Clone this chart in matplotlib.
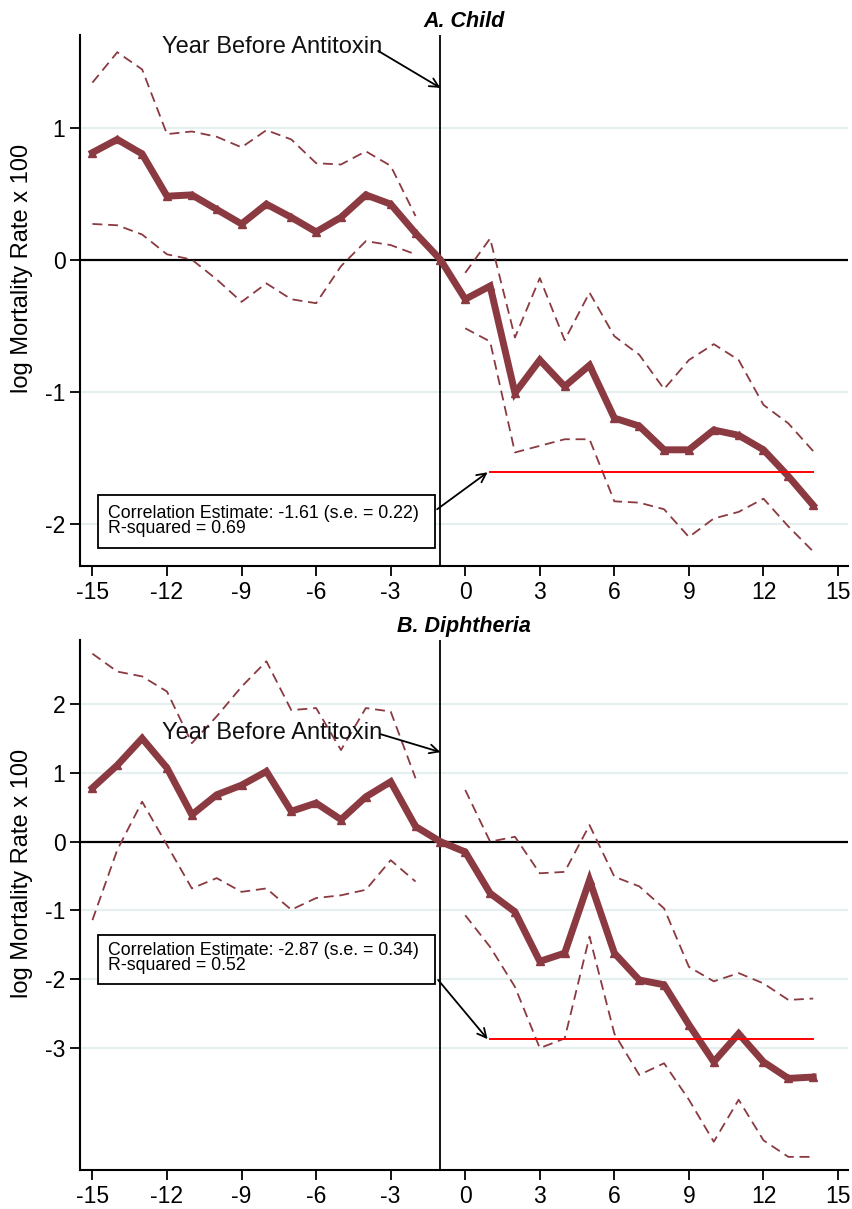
import matplotlib.pyplot as plt
from matplotlib.patches import Rectangle

plt.rcParams["font.family"] = ["Liberation Sans", "DejaVu Sans"]

# event time (years relative to antitoxin); -1 is the omitted year
years = list(range(-15, 15))
years_pre = list(range(-15, -1))
years_post = list(range(0, 15))

child_est = [0.81, 0.91, 0.80, 0.48, 0.49, 0.38, 0.27, 0.42, 0.32, 0.21,
             0.32, 0.49, 0.42, 0.20, 0.00, -0.30, -0.20, -1.01, -0.76, -0.96,
             -0.80, -1.20, -1.26, -1.44, -1.44, -1.29, -1.33, -1.44, -1.64, -1.86]
child_hi_pre = [1.34, 1.57, 1.44, 0.95, 0.97, 0.93, 0.85, 0.98, 0.91, 0.73,
                0.72, 0.82, 0.71, 0.33]
child_lo_pre = [0.27, 0.26, 0.19, 0.04, 0.00, -0.15, -0.32, -0.18, -0.30, -0.33,
                -0.05, 0.14, 0.11, 0.04]
child_hi_post = [-0.10, 0.16, -0.59, -0.14, -0.61, -0.25, -0.58, -0.72, -0.98,
                 -0.76, -0.64, -0.76, -1.10, -1.24, -1.45]
child_lo_post = [-0.52, -0.62, -1.46, -1.41, -1.36, -1.36, -1.83, -1.84, -1.89,
                 -2.10, -1.96, -1.91, -1.81, -2.02, -2.21]
child_corr = -1.61

diph_est = [0.78, 1.11, 1.50, 1.07, 0.39, 0.68, 0.82, 1.02, 0.44, 0.56,
            0.32, 0.65, 0.87, 0.22, 0.00, -0.15, -0.75, -1.02, -1.74, -1.62,
            -0.56, -1.62, -2.01, -2.08, -2.66, -3.20, -2.79, -3.20, -3.44, -3.42]
diph_hi_pre = [2.73, 2.47, 2.40, 2.18, 1.43, 1.82, 2.25, 2.62, 1.91, 1.94,
               1.33, 1.94, 1.89, 0.92]
diph_lo_pre = [-1.14, -0.12, 0.58, -0.05, -0.68, -0.53, -0.73, -0.68, -0.99, -0.82,
               -0.78, -0.70, -0.27, -0.58]
diph_hi_post = [0.75, 0.00, 0.07, -0.46, -0.44, 0.24, -0.51, -0.65, -0.97,
                -1.82, -2.03, -1.91, -2.06, -2.30, -2.28]
diph_lo_post = [-1.07, -1.53, -2.11, -3.00, -2.86, -1.38, -2.79, -3.39, -3.22,
                -3.75, -4.36, -3.75, -4.34, -4.58, -4.58]
diph_corr = -2.87

xticks = [-15, -12, -9, -6, -3, 0, 3, 6, 9, 12, 15]

MAROON = "#8a3a40"
GRID = "#e6eff0"


def panel(ax, est, hi_pre, lo_pre, hi_post, lo_post, corr, *, title, ylim, yticks,
          label_xy, arrow_from, arrow_to, box, box_text, box_text_y, box_arrow_from):
    for y in yticks:
        if y != 0:
            ax.axhline(y, color=GRID, linewidth=1.6, zorder=0)
    ax.axhline(0, color="black", linewidth=1.6, zorder=1)
    ax.axvline(-1, color="black", linewidth=1.3, zorder=1)

    dash = dict(color=MAROON, linewidth=1.3, dashes=(5.5, 3.2), zorder=2)
    ax.plot(years_pre, hi_pre, **dash)
    ax.plot(years_pre, lo_pre, **dash)
    ax.plot(years_post, hi_post, **dash)
    ax.plot(years_post, lo_post, **dash)
    ax.plot(years, est, color=MAROON, linewidth=5, marker="^", markersize=6,
            solid_joinstyle="miter", zorder=3)
    ax.plot([1, 14], [corr, corr], color="red", linewidth=1.4, zorder=4)

    ax.text(*label_xy, "Year Before Antitoxin", fontsize=17, ha="left", va="center",
            color="#111111", zorder=5)
    ax.annotate("", xy=arrow_to, xytext=arrow_from,
                arrowprops=dict(arrowstyle="->", color="black", lw=1.3,
                                mutation_scale=16, shrinkA=0, shrinkB=0))

    (bx0, bx1, by0, by1) = box
    ax.add_patch(Rectangle((bx0, by0), bx1 - bx0, by1 - by0, fill=True,
                           facecolor="white", edgecolor="black", linewidth=1.3,
                           zorder=5))
    ax.text(bx0 + 0.38, box_text_y, box_text, fontsize=12.8, ha="left", va="center",
            linespacing=0.88, zorder=6)
    ax.annotate("", xy=(0.9, corr), xytext=box_arrow_from,
                arrowprops=dict(arrowstyle="->", color="black", lw=1.3,
                                mutation_scale=16, shrinkA=0, shrinkB=0))

    ax.set_xlim(-15.5, 15.4)
    ax.set_ylim(*ylim)
    ax.set_xticks(xticks)
    ax.set_yticks(yticks)
    ax.set_yticklabels([f"{t:g}" for t in yticks])
    ax.set_xticklabels([f"{t:g}" for t in xticks])
    ax.tick_params(labelsize=16.5, length=7, width=1.3, direction="out")
    ax.spines[["top", "right"]].set_visible(False)
    for side in ("left", "bottom"):
        ax.spines[side].set_linewidth(1.5)
    ax.set_ylabel("log Mortality Rate x 100", fontsize=17)
    ax.yaxis.set_label_coords(-0.061, 0.56)
    ax.set_title(title, fontsize=15.5, fontweight="bold", fontstyle="italic", pad=6)


fig = plt.figure(figsize=(8.52, 12.09), dpi=100)
ax1 = fig.add_axes([0.0939, 0.5318, 0.9014, 0.4392])
ax2 = fig.add_axes([0.0939, 0.0323, 0.9014, 0.4384])

panel(ax1, child_est, child_hi_pre, child_lo_pre, child_hi_post, child_lo_post,
      child_corr, title="A. Child", ylim=(-2.32, 1.70), yticks=[1, 0, -1, -2],
      label_xy=(-12.2, 1.61), arrow_from=(-3.5, 1.58), arrow_to=(-1.0, 1.30),
      box=(-14.77, -1.21, -2.18, -1.78),
      box_text="Correlation Estimate: -1.61 (s.e. = 0.22)\nR-squared = 0.69",
      box_text_y=-1.98, box_arrow_from=(-1.13, -1.89))

panel(ax2, diph_est, diph_hi_pre, diph_lo_pre, diph_hi_post, diph_lo_post,
      diph_corr, title="B. Diphtheria", ylim=(-4.77, 2.93),
      yticks=[2, 1, 0, -1, -2, -3],
      label_xy=(-12.2, 1.58), arrow_from=(-3.4, 1.56), arrow_to=(-1.0, 1.30),
      box=(-14.77, -1.21, -2.07, -1.36),
      box_text="Correlation Estimate: -2.87 (s.e. = 0.34)\nR-squared = 0.52",
      box_text_y=-1.69, box_arrow_from=(-1.09, -2.01))

fig.savefig("out.png", dpi=100)
